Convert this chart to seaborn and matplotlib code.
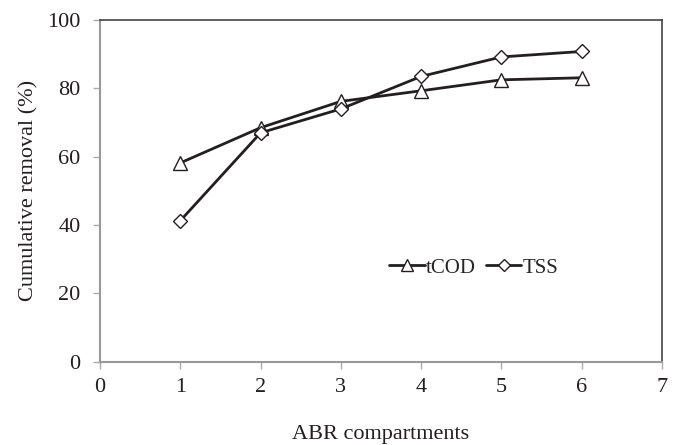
import numpy as np
import pandas as pd
import seaborn as sns
import matplotlib.pyplot as plt

# Values
compartments = [1, 2, 3, 4, 5, 6]
tcod = [58.2, 68.5, 76.2, 79.3, 82.5, 83.1]
tss = [41.3, 67.0, 74.0, 83.5, 89.2, 90.8]

sns.set_style('white')
plt.rcParams['font.family'] = ['Liberation Serif', 'DejaVu Serif']

fig = plt.figure(figsize=(6.81, 4.45), dpi=100)
ax = fig.add_axes([0.147, 0.187, 0.825, 0.768])

sns.lineplot(x=compartments, y=tcod, ax=ax, color='#231f20', linewidth=2,
             marker='^', markersize=10, markerfacecolor='white',
             markeredgecolor='#231f20', markeredgewidth=1, label='tCOD')
sns.lineplot(x=compartments, y=tss, ax=ax, color='#231f20', linewidth=2,
             marker='D', markersize=7.5, markerfacecolor='white',
             markeredgecolor='#231f20', markeredgewidth=1, label='TSS')

ax.set_xlim(0, 7)
ax.set_ylim(0, 100)
ax.set_xticks(range(0, 8))
ax.set_yticks(range(0, 101, 20))
ax.tick_params(axis='both', labelsize=16, labelcolor='#231f20', direction='out',
               length=5, width=1, color='#aaaaaa', left=True, bottom=True)
ax.tick_params(axis='y', pad=9)
ax.tick_params(axis='x', pad=7)

for side in ['left', 'bottom']:
    ax.spines[side].set_color('#999999')
    ax.spines[side].set_linewidth(1.5)
for side in ['top', 'right']:
    ax.spines[side].set_color('#444444')
    ax.spines[side].set_linewidth(1.2)

ax.set_xlabel('ABR compartments', fontsize=16, color='#231f20', labelpad=20)
ax.set_ylabel('Cumulative removal (%)', fontsize=16, color='#231f20', labelpad=6)

ax.legend(loc='center', bbox_to_anchor=(0.665, 0.275), ncol=2, frameon=False,
          fontsize=15, handlelength=1.7, handletextpad=0.05, columnspacing=0.5,
          markerscale=0.8)

fig.savefig('out.png', dpi=100)
